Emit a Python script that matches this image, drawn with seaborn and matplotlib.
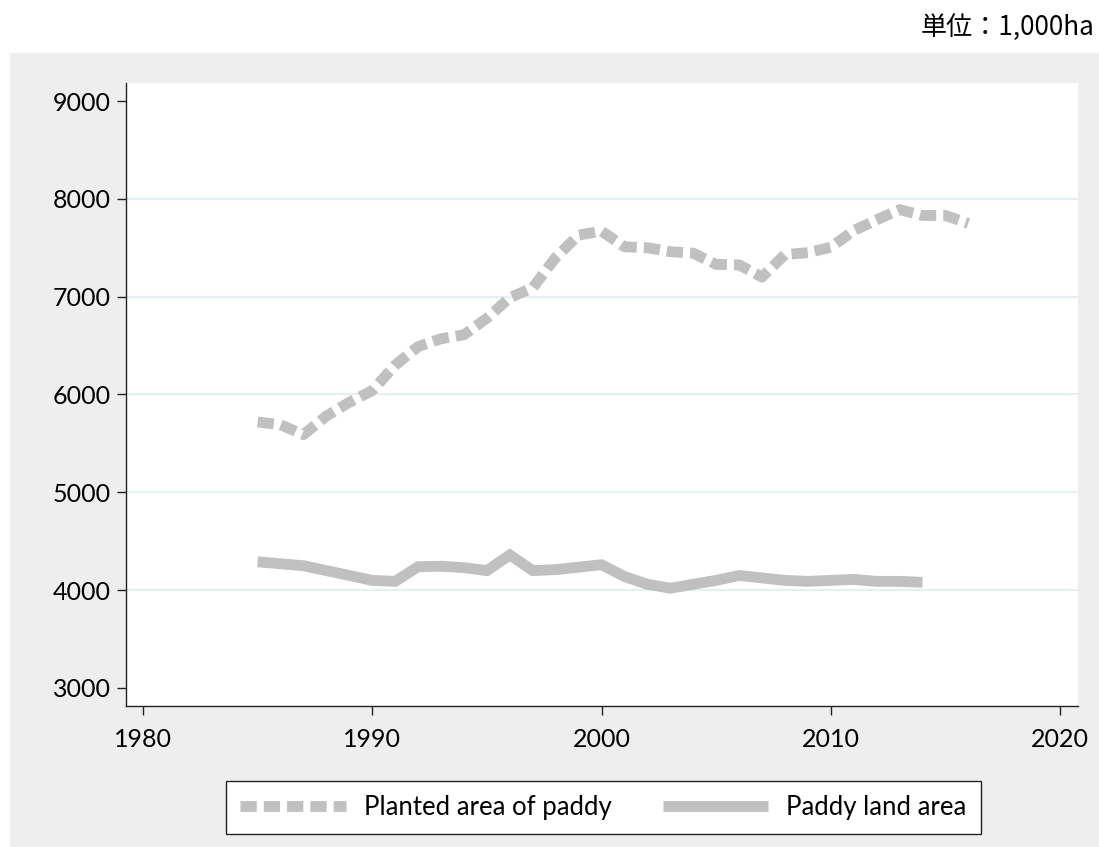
import matplotlib
matplotlib.use("Agg")
import matplotlib.pyplot as plt
from matplotlib.patches import Rectangle
import numpy as np
import pandas as pd
import seaborn as sns

# Rice paddy statistics (unit: 1,000 ha)
years_planted = list(range(1985, 2017))
planted_area = [5720, 5690, 5590, 5780, 5920, 6040, 6300, 6490, 6570, 6610,
                6780, 6990, 7090, 7400, 7630, 7670, 7510, 7500, 7460, 7445,
                7330, 7325, 7200, 7430, 7450, 7505, 7675, 7785, 7890, 7830,
                7830, 7750]

years_land = list(range(1985, 2015))
land_area = [4290, 4270, 4250, 4200, 4150, 4100, 4090, 4240, 4245, 4230,
             4200, 4360, 4200, 4210, 4235, 4260, 4140, 4060, 4020, 4060,
             4100, 4150, 4125, 4100, 4090, 4100, 4110, 4090, 4090, 4080]

series_labels = ["Planted area of paddy", "Paddy land area"]
x_ticks = [1980, 1990, 2000, 2010, 2020]
y_ticks = [3000, 4000, 5000, 6000, 7000, 8000, 9000]
grid_values = [4000, 5000, 6000, 7000, 8000]
unit_note = "単位：1,000ha"

df_planted = pd.DataFrame({"year": years_planted, "area": planted_area})
df_land = pd.DataFrame({"year": years_land, "area": land_area})

plt.rcParams["font.family"] = ["Lato", "DejaVu Sans"]

W, H = 1099, 847
fig = plt.figure(figsize=(W / 100, H / 100), dpi=100, facecolor="white")

# light grey graph region behind the plot area
bg = Rectangle((10 / W, 0), 1 - 10 / W, 1 - 53 / H,
               transform=fig.transFigure, facecolor="#EEEEEE",
               edgecolor="none", zorder=-10)
fig.patches.append(bg)

ax = fig.add_axes([126 / W, 1 - 706 / H, (1078 - 126) / W, (706 - 83) / H])
ax.set_zorder(1)
ax.set_facecolor("white")

line_color = "#C0C0C0"
lw = 7.8

sns.lineplot(data=df_planted, x="year", y="area", ax=ax, color=line_color,
             linewidth=lw, linestyle=(0, (1.5, 0.65)), solid_capstyle="butt",
             dash_capstyle="butt", label=series_labels[0], zorder=3)
sns.lineplot(data=df_land, x="year", y="area", ax=ax, color=line_color,
             linewidth=lw, solid_capstyle="butt", solid_joinstyle="miter",
             label=series_labels[1], zorder=3)

for g in grid_values:
    ax.axhline(g, color="#E6EFF1", linewidth=1.6, zorder=1)

ax.set_xlim(1979.258, 2020.785)
ax.set_ylim(2816, 9184)
ax.set_xticks(x_ticks)
ax.set_yticks(y_ticks)
ax.set_xticklabels([str(v) for v in x_ticks])
ax.set_yticklabels([str(v) for v in y_ticks])
ax.set_xlabel("")
ax.set_ylabel("")

for side in ["top", "right"]:
    ax.spines[side].set_visible(False)
for side in ["left", "bottom"]:
    ax.spines[side].set_color("#222222")
    ax.spines[side].set_linewidth(1.0)

ax.tick_params(axis="both", direction="out", length=6.5, width=1.0,
               color="#222222", labelsize=18, labelcolor="black")
ax.tick_params(axis="y", pad=4.5)
ax.tick_params(axis="x", pad=9)

leg = ax.legend(loc="center", bbox_to_anchor=(603.5 / W, 1 - 807.5 / H),
                bbox_transform=fig.transFigure, ncol=2, fontsize=18.5,
                frameon=True, fancybox=False, handlelength=4.1,
                handletextpad=0.7, columnspacing=2.0, borderpad=0.55,
                borderaxespad=0)
frame = leg.get_frame()
frame.set_edgecolor("#222222")
frame.set_linewidth(1.0)
frame.set_facecolor("white")
frame.set_alpha(1)

fig.text(921 / W, 1 - 27 / H, unit_note, ha="left", va="center",
         fontsize=18.8, family=["Noto Sans CJK JP", "DejaVu Sans"])

fig.savefig("out.png", dpi=100, facecolor="white")
